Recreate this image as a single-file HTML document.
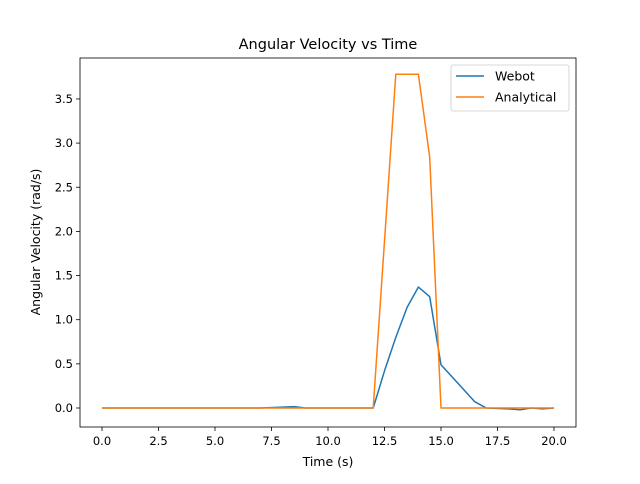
<!DOCTYPE html>
<html><head><meta charset="utf-8"><style>
body{margin:0;background:#fff;font-family:"DejaVu Sans","Liberation Sans",sans-serif;}
svg text{font-family:"DejaVu Sans","Liberation Sans",sans-serif;fill:#000;}
</style></head><body>
<svg id="c" width="640" height="480" xmlns="http://www.w3.org/2000/svg"></svg>
<script>
const webotT = [0,7,8,8.5,9,12,12.5,13,13.5,14,14.5,15,16.5,17,18,18.5,19,19.5,20];
const webotV = [0,0,0.01,0.015,0,0,0.42,0.8,1.14,1.37,1.26,0.49,0.07,0,-0.01,-0.02,0,-0.01,0];
const anaT = [0,12,13,14,14.5,15,20];
const anaV = [0,0,3.78,3.78,2.84,0,0];
const xTicks = [0,2.5,5,7.5,10,12.5,15,17.5,20];
const xTickLabels = ["0.0","2.5","5.0","7.5","10.0","12.5","15.0","17.5","20.0"];
const yTicks = [0,0.5,1,1.5,2,2.5,3,3.5];
const yTickLabels = ["0.0","0.5","1.0","1.5","2.0","2.5","3.0","3.5"];

const NS="http://www.w3.org/2000/svg";
const svg=document.getElementById('c');
const L=80,R=576,T=58,B=427;
const xs=v=>102+(v/20)*452;
const ys=v=>408-v*88.3;
function mk(tag,attrs,parent){const e=document.createElementNS(NS,tag);for(const k in attrs)e.setAttribute(k,attrs[k]);(parent||svg).appendChild(e);return e;}

const title=mk('text',{x:328,y:49,'text-anchor':'middle','font-size':14.5});
title.textContent='Angular Velocity vs Time';



xTicks.forEach((v,i)=>{
  const t=mk('line',{x1:xs(v),x2:xs(v),y1:B,y2:B+4,stroke:'#000','stroke-width':0.8});
  
  
  const l=mk('text',{x:xs(v),y:B+18,'text-anchor':'middle','font-size':11.5});
  l.textContent=xTickLabels[i];
  
  
});
yTicks.forEach((v,i)=>{
  const t=mk('line',{x1:L-4,x2:L,y1:ys(v),y2:ys(v),stroke:'#000','stroke-width':0.8});
  
  
  const l=mk('text',{x:L-7,y:ys(v)+4,'text-anchor':'end','font-size':11.5});
  l.textContent=yTickLabels[i];
  
  
});
const xl=mk('text',{x:328,y:466,'text-anchor':'middle','font-size':12.5});
xl.textContent='Time (s)';


const yl=mk('text',{x:0,y:0,'text-anchor':'middle','font-size':12.5,transform:'translate(40,242) rotate(-90)'});
yl.textContent='Angular Velocity (rad/s)';



function line(ts,vs,color,name){
  const p=mk('polyline',{points:ts.map((t,i)=>xs(t)+','+ys(vs[i])).join(' '),fill:'none',stroke:color,'stroke-width':1.5,'stroke-linejoin':'round'});
  
  
}
line(webotT,webotV,'#1f77b4','webot-line');
line(anaT,anaV,'#ff7f0e','analytical-line');

const frame=mk('rect',{x:L,y:T,width:R-L,height:B-T,fill:'none',stroke:'#000','stroke-width':0.8});



const lg=mk('g',{});


mk('rect',{x:451,y:65,width:118,height:46,rx:2,fill:'#fff',stroke:'#ccc','stroke-width':0.8},lg);
[['Webot','#1f77b4',76],['Analytical','#ff7f0e',97]].forEach(([n,c,y])=>{
  const e=mk('g',{},lg);
  
  
  mk('line',{x1:456,x2:484,y1:y,y2:y,stroke:c,'stroke-width':1.5},e);
  const t=mk('text',{x:495,y:y+4.5,'font-size':12.5},e);
  t.textContent=n;
});
</script>
</body></html>
